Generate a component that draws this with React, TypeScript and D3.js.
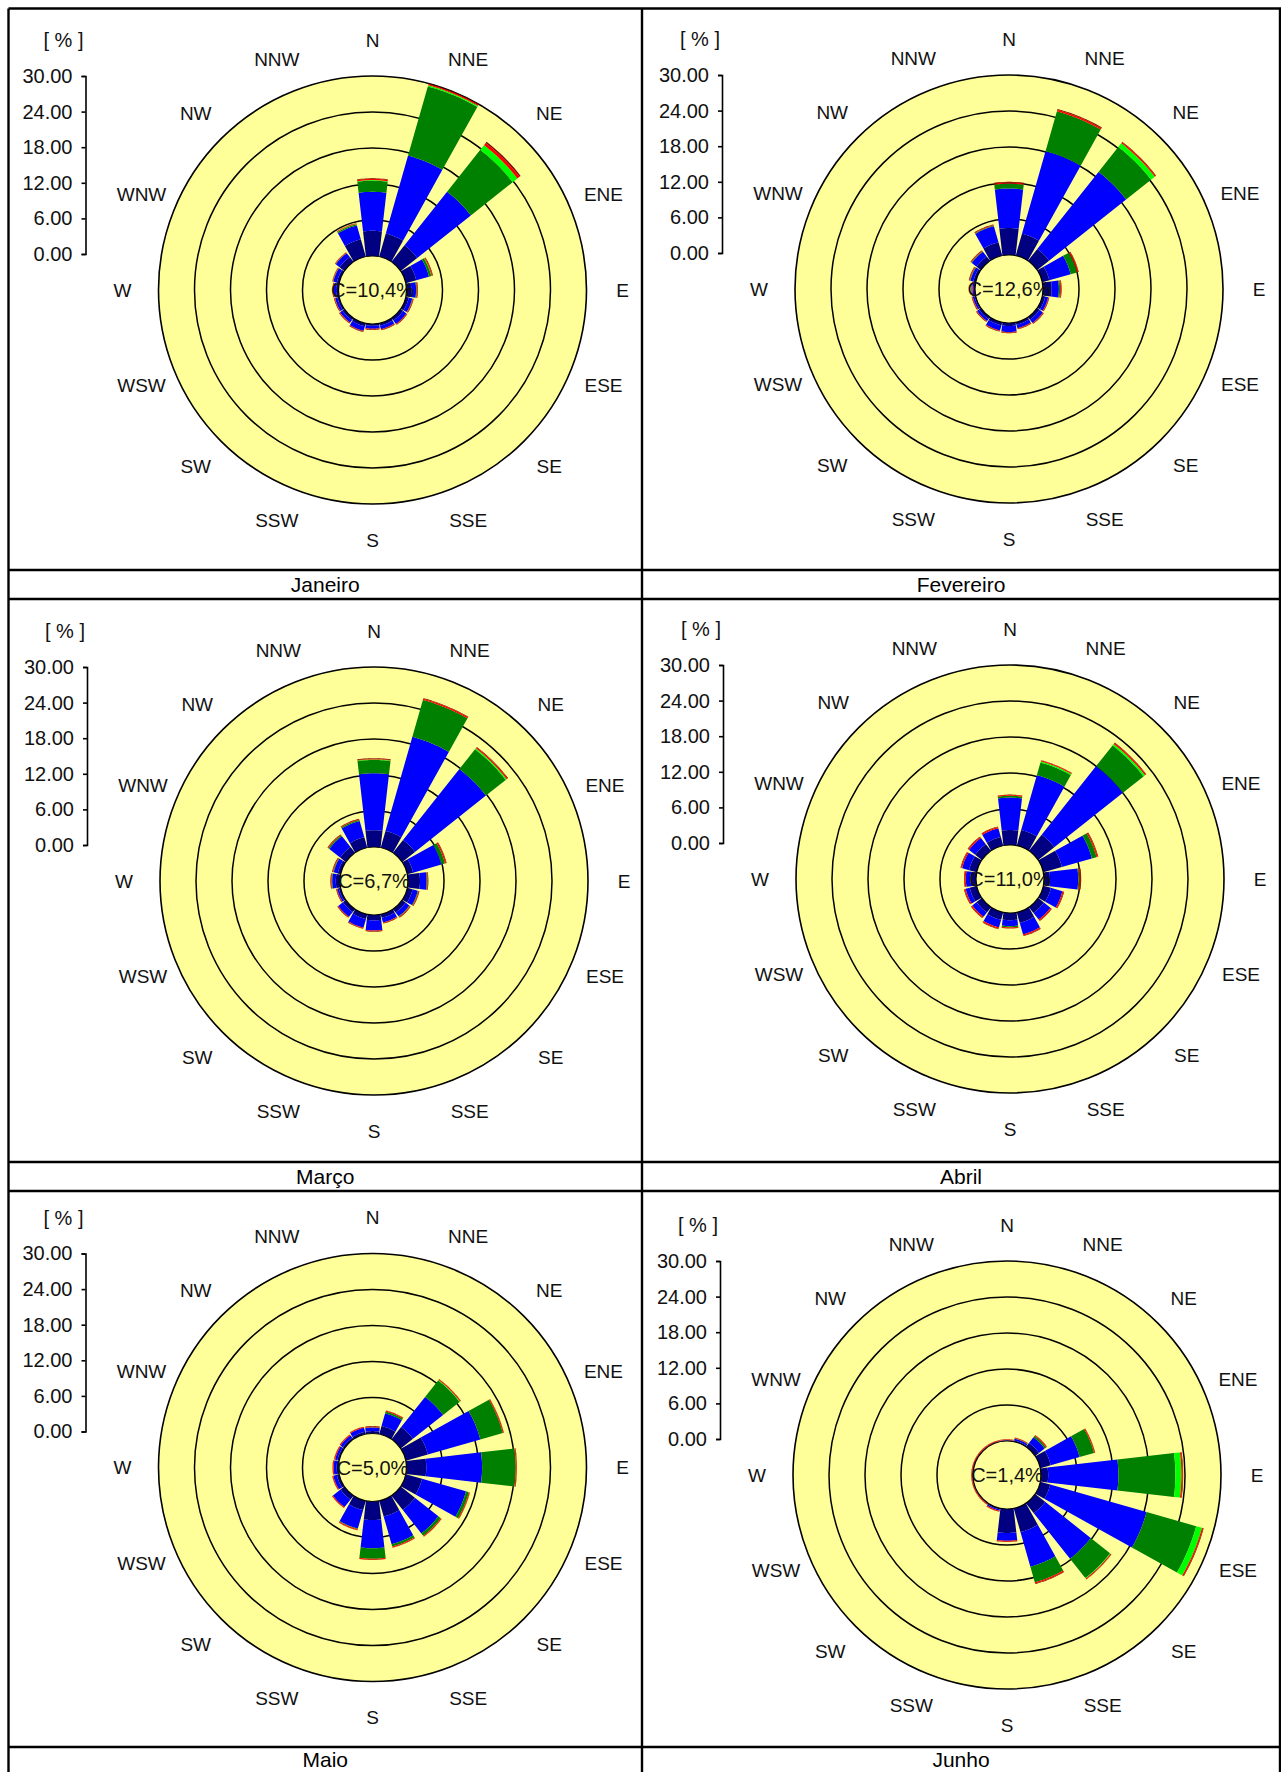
import React, { useRef, useEffect } from 'react'
import * as d3 from 'd3'

const FONT = '"Liberation Sans", Arial, sans-serif'

const directions = ['N', 'NNE', 'NE', 'ENE', 'E', 'ESE', 'SE', 'SSE', 'S', 'SSW', 'SW', 'WSW', 'W', 'WNW', 'NW', 'NNW']
const classKeys = ['c1', 'c2', 'c3', 'c4', 'c5', 'c6']
const classColors = ['#000080', '#0000ff', '#008000', '#00ff00', '#ff0000', '#800000']
const ringTicks = [0, 6, 12, 18, 24, 30]
const months = ['Janeiro', 'Fevereiro', 'Março', 'Abril', 'Maio', 'Junho']
const calms = ['C=10,4%', 'C=12,6%', 'C=6,7%', 'C=11,0%', 'C=5,0%', 'C=1,4%']

// frequency [%] per direction (N clockwise), one column per speed class
const janeiro = [
  [4.2, 6.5, 1.85, 0.1, 0.2, 0.1],
  [4.0, 13.5, 12.0, 0.2, 0.2, 0.1],
  [3.5, 11.4, 8.9, 1.0, 0.45, 0.25],
  [1.8, 2.2, 0.4, 0.05, 0.15, 0.1],
  [0.8, 0.8, 0.1, 0, 0.1, 0.1],
  [0.5, 0.6, 0.05, 0, 0.1, 0.1],
  [0.5, 0.7, 0, 0, 0.1, 0.1],
  [0.4, 0.6, 0, 0, 0.1, 0.1],
  [0.3, 0.5, 0, 0, 0.1, 0.1],
  [0.5, 0.8, 0, 0, 0.1, 0.1],
  [0.4, 0.5, 0, 0, 0.1, 0.1],
  [0.3, 0.4, 0, 0, 0.1, 0.1],
  [0.4, 0.4, 0, 0, 0.1, 0.1],
  [0.4, 0.6, 0.05, 0, 0.1, 0.05],
  [1.0, 0.8, 0.05, 0, 0.1, 0.05],
  [3.0, 2.4, 0.2, 0.05, 0.1, 0.05]
]

const fevereiro = [
  [4.5, 6.6, 0.8, 0, 0.2, 0.1],
  [3.8, 14.3, 6.9, 0, 0.25, 0.15],
  [2.5, 16.4, 5.3, 0.8, 0.2, 0.1],
  [1.2, 3.7, 1.1, 0, 0.2, 0.1],
  [1.45, 1.2, 0.2, 0, 0.15, 0.1],
  [0.5, 0.5, 0, 0, 0.1, 0.1],
  [0.5, 0.7, 0, 0, 0.1, 0.1],
  [0.4, 0.6, 0, 0, 0.1, 0.1],
  [0.5, 1.0, 0, 0, 0.1, 0.1],
  [0.5, 0.9, 0, 0, 0.1, 0.1],
  [0.4, 0.4, 0, 0, 0.1, 0.1],
  [0.2, 0.3, 0, 0, 0.1, 0.1],
  [0.2, 0.2, 0, 0, 0.1, 0.1],
  [0.4, 0.5, 0.1, 0, 0.1, 0.1],
  [0.9, 1.0, 0.1, 0, 0.1, 0.1],
  [2.3, 2.8, 0.1, 0, 0.1, 0.1]
]

const marco = [
  [2.8, 9.5, 2.2, 0.1, 0.1, 0.1],
  [2.9, 16.3, 6.4, 0, 0.2, 0.1],
  [2.7, 15.1, 4.2, 0.2, 0.2, 0.1],
  [1.0, 4.9, 0.6, 0, 0.2, 0.1],
  [2.0, 1.1, 0.1, 0, 0.1, 0.1],
  [0.9, 0.9, 0.1, 0, 0.1, 0.1],
  [0.7, 0.8, 0.1, 0, 0.1, 0.1],
  [0.6, 0.8, 0, 0, 0.1, 0.1],
  [0.9, 1.7, 0, 0, 0.1, 0.1],
  [0.8, 1.5, 0, 0, 0.1, 0.1],
  [0.6, 1.0, 0, 0, 0.1, 0.1],
  [0.3, 0.3, 0, 0, 0.1, 0.1],
  [0.7, 0.6, 0.1, 0, 0.1, 0.1],
  [0.5, 0.7, 0.1, 0, 0.1, 0.1],
  [1.2, 2.3, 0.2, 0, 0.1, 0.1],
  [1.8, 2.8, 0.2, 0, 0.1, 0.1]
]

const abril = [
  [2.5, 5.4, 0.3, 0, 0.15, 0.05],
  [2.7, 9.5, 2.2, 0.2, 0.15, 0.05],
  [3.4, 14.6, 4.4, 0.3, 0.2, 0.1],
  [3.2, 5.2, 0.8, 0, 0.2, 0.1],
  [1.0, 4.7, 0.2, 0, 0.2, 0.1],
  [1.3, 2.0, 0, 0, 0.2, 0.1],
  [1.2, 1.4, 0, 0, 0.2, 0.1],
  [1.8, 2.0, 0, 0, 0.2, 0.1],
  [1.2, 1.0, 0.2, 0, 0.15, 0.05],
  [1.3, 1.3, 0, 0, 0.2, 0.1],
  [1.1, 0.9, 0, 0, 0.2, 0.1],
  [1.2, 0.7, 0, 0, 0.2, 0.1],
  [0.9, 0.8, 0, 0, 0.2, 0.1],
  [1.3, 1.2, 0, 0, 0.2, 0.1],
  [1.4, 1.3, 0, 0, 0.2, 0.1],
  [1.5, 1.5, 0, 0, 0.2, 0.1]
]

const maio = [
  [0.4, 0.6, 0.05, 0, 0.1, 0.1],
  [1.4, 2.2, 0.3, 0, 0.15, 0.05],
  [2.6, 6.4, 3.5, 0.1, 0.15, 0.05],
  [3.8, 9.1, 3.9, 0, 0.15, 0.05],
  [3.3, 9.3, 5.6, 0, 0.15, 0.05],
  [2.8, 7.6, 0.5, 0, 0.15, 0.05],
  [3.0, 5.0, 0.5, 0, 0.15, 0.05],
  [2.7, 4.8, 0.4, 0, 0.15, 0.05],
  [3.1, 4.7, 1.75, 0, 0.15, 0.05],
  [1.6, 3.2, 0.1, 0, 0.15, 0.05],
  [0.8, 1.6, 0, 0, 0.15, 0.05],
  [0.4, 0.6, 0, 0, 0.15, 0.05],
  [0.3, 0.5, 0, 0, 0.15, 0.05],
  [0.3, 0.4, 0, 0, 0.15, 0.05],
  [0.3, 0.5, 0, 0, 0.15, 0.05],
  [0.4, 0.7, 0, 0, 0.15, 0.05]
]

const junho = [
  [0.1, 0.05, 0, 0, 0.1, 0.05],
  [0.2, 0.3, 0.05, 0, 0.1, 0.05],
  [0.8, 1.2, 0.3, 0, 0.15, 0.05],
  [1.8, 5.0, 2.5, 0, 0.15, 0.05],
  [1.2, 11.7, 9.5, 1.0, 0.2, 0.1],
  [1.7, 16.7, 8.6, 1.0, 0.2, 0.1],
  [2.1, 9.7, 4.1, 0.1, 0.15, 0.05],
  [4.1, 6.0, 2.7, 0, 0.2, 0.1],
  [4.0, 1.3, 0, 0, 0.15, 0.05],
  [0.2, 0.2, 0, 0, 0.15, 0.05],
  [0.05, 0.05, 0, 0, 0.15, 0.05],
  [0.05, 0.05, 0, 0, 0.15, 0.05],
  [0.05, 0.05, 0, 0, 0.15, 0.05],
  [0.05, 0.05, 0, 0, 0.15, 0.05],
  [0.05, 0.05, 0, 0, 0.15, 0.05],
  [0.05, 0.05, 0, 0, 0.15, 0.05]
]

const monthData = [janeiro, fevereiro, marco, abril, maio, junho]

// page layout
const W = 1281
const H = 1772
const colX = [8.5, 642, 1280]
const rowY = [8.5, 570, 599, 1162, 1191, 1747, 1778]
// the last title row runs past the page, keep its text inside
const titleY = [584.5, 1176.5, 1759.5]
const centers = [
  [372.5, 290],
  [1009, 289],
  [374, 881],
  [1010, 879],
  [372.5, 1467.5],
  [1007, 1475]
]

const r = d3.scaleLinear().domain([0, 30]).range([34, 214])
const angle = d3.scaleLinear().domain([0, 16]).range([0, 2 * Math.PI])
const line = d3.line()

// bars touch at the calm circle and widen slower than a sector
const r0 = r(0)
const hw0 = 6.65
const spread = 0.115
const half = a => hw0 + spread * (a - r0)

const arcPts = (rad, from, to) => {
  let t = half(rad)
  let a = Math.sqrt(rad * rad - t * t)
  t = half(a)
  const pts = []
  const n = 14
  for (let k = 0; k <= n; k++) {
    const tt = from * t + ((to - from) * t * k) / n
    pts.push([Math.sqrt(rad * rad - tt * tt), tt])
  }
  return pts
}

const segPath = (cx, cy, phi, ra, rb) => {
  const s = Math.sin(phi)
  const c = Math.cos(phi)
  const local = [...arcPts(rb, -1, 1), ...arcPts(ra, 1, -1)]
  const pts = local.map(([a, t]) => [cx + a * s + t * c, cy - a * c + t * s])
  return line(pts) + 'Z'
}

const Axis = ({ cx, cy }) => {
  const gRef = useRef()
  useEffect(() => {
    const y = d3.scaleLinear().domain([0, 30]).range([cy - 36, cy - 214])
    const g = d3.select(gRef.current)
    g.selectAll('*').remove()
    g.attr('transform', `translate(${cx - 287},0)`).call(
      d3
        .axisLeft(y)
        .tickValues(ringTicks)
        .tickFormat(d3.format('.2f'))
        .tickSize(4)
        .tickPadding(9)
    )
    g.attr('font-size', 20).attr('font-family', FONT)
    g.selectAll('path, line').attr('stroke', '#000').attr('stroke-width', 1.6)
    g.selectAll('text').attr('fill', '#111')
  }, [cx, cy])
  return <g ref={gRef} />
}

const Rose = ({ rows, calm, cx, cy }) => {
  const table = rows.map((v, i) => {
    const o = { dir: directions[i] }
    classKeys.forEach((k, j) => (o[k] = v[j]))
    return o
  })
  const series = d3.stack().keys(classKeys)(table)

  return (
    <g>
      <circle cx={cx} cy={cy} r={r(30)} fill="#ffff99" stroke="#000" strokeWidth={1.6} />
      {ringTicks.slice(1, 5).map(v => (
        <circle key={v} cx={cx} cy={cy} r={r(v)} fill="none" stroke="#000" strokeWidth={1.5} />
      ))}
      {series.map((s, j) => (
        <g key={s.key} fill={classColors[j]}>
          {s.map((d, i) =>
            d[1] - d[0] > 0 ? (
              <path key={i} d={segPath(cx, cy, angle(i), r(d[0]), r(d[1]))} />
            ) : null
          )}
        </g>
      ))}
      <circle cx={cx} cy={cy} r={r0} fill="none" stroke="#000" strokeWidth={1.2} />
      <text x={cx} y={cy} textAnchor="middle" dominantBaseline="central" fontSize={20} fill="#111">
        {calm}
      </text>
      {directions.map((d, i) => (
        <text
          key={d}
          x={cx + 250 * Math.sin(angle(i))}
          y={cy - 250 * Math.cos(angle(i))}
          textAnchor="middle"
          dominantBaseline="central"
          fontSize={19}
          fill="#111"
        >
          {d}
        </text>
      ))}
      <text x={cx - 309} y={cy - 250} textAnchor="middle" dominantBaseline="central" fontSize={20} fill="#111">
        [ % ]
      </text>
      <Axis cx={cx} cy={cy} />
    </g>
  )
}

const App = () => {
  return (
    <svg
      width={W}
      height={H}
      viewBox={`0,0,${W},${H}`}
      style={{ position: 'absolute', left: 0, top: 0, background: '#fff' }}
      fontFamily={FONT}
    >
      <rect width={W} height={H} fill="#fff" />
      {monthData.map((rows, m) => (
        <Rose key={months[m]} rows={rows} calm={calms[m]} cx={centers[m][0]} cy={centers[m][1]} />
      ))}
      {months.map((name, m) => (
        <text
          key={name}
          x={(colX[m % 2] + colX[m % 2 + 1]) / 2}
          y={titleY[Math.floor(m / 2)]}
          textAnchor="middle"
          dominantBaseline="central"
          fontSize={21}
          fill="#000"
        >
          {name}
        </text>
      ))}
      <g stroke="#000" strokeWidth={2.4}>
        {colX.map(x => (
          <line key={x} x1={x} x2={x} y1={rowY[0]} y2={H + 10} />
        ))}
        {rowY.map(y => (
          <line key={y} x1={colX[0]} x2={W + 10} y1={y} y2={y} />
        ))}
      </g>
    </svg>
  )
}

export default App
